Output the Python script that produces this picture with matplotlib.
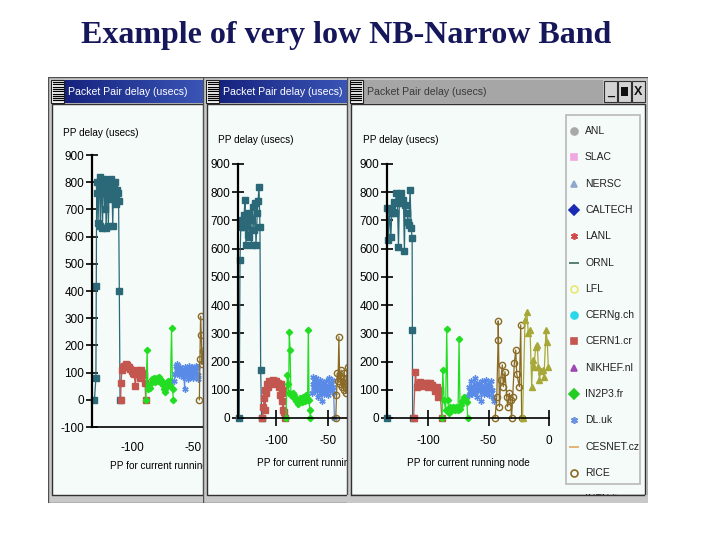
import matplotlib
matplotlib.use('Agg')
import matplotlib.pyplot as plt
from matplotlib.patches import Rectangle
from matplotlib.colors import LinearSegmentedColormap
import numpy as np

# ---------------- data ----------------
slide_title = "Example of very low NB-Narrow Band"
window_title = "Packet Pair delay (usecs)"
y_label = "PP delay (usecs)"
x_label = "PP for current running node"

yticks_p1 = [-100, 0, 100, 200, 300, 400, 500, 600, 700, 800, 900]
yticks_p23 = [0, 100, 200, 300, 400, 500, 600, 700, 800, 900]
xticks_p12 = [-100, -50]
xticks_p3 = [-100, -50, 0]

# panel 1
teal1_x = [-131.0, -129.8, -129.5, -129.2, -128.6, -128.0, -127.4, -126.8, -126.2, -125.6,
           -125.0, -124.4, -123.8, -123.2, -122.6, -122.0, -121.4, -120.8, -120.2, -119.6,
           -119.0, -118.4, -117.8, -117.2, -116.6, -116.0, -115.4, -114.8, -114.2, -113.6,
           -113.0, -112.4, -111.8, -111.2, -110.6, -110.0]
teal1_y = [0, 80, 420, 760, 800, 650, 790, 820, 640, 800,
           760, 630, 790, 810, 700, 780, 630, 760, 800, 640,
           770, 740, 790, 810, 780, 640, 760, 790, 800, 740,
           720, 770, 760, 730, 400, 0]
red1_x = [-109.5, -109.2, -108.5, -107.5, -106.5, -105.5, -104.5, -103.5, -102.5, -101.5,
          -100.5, -99.5, -98.5, -97.5, -96.5, -95.5, -94.5, -93.5, -92.5, -91.5,
          -90.5, -89.5, -89.0]
red1_y = [0, 60, 110, 120, 125, 130, 128, 122, 120, 115,
          105, 100, 95, 50, 110, 100, 95, 80, 110, 100,
          90, 60, 0]
green1_x = [-88.8, -87.8, -87.2, -86.3, -85.5, -84.7, -83.8, -83.0, -82.2, -81.4,
            -80.6, -79.8, -79.0, -78.2, -77.4, -76.6, -75.8, -75.0, -74.2, -73.4,
            -72.6, -71.8, -71.0, -70.2, -69.4, -68.6, -67.8, -67.0, -66.3]
green1_y = [0, 182, 40, 55, 45, 60, 75, 70, 80, 65,
            75, 80, 70, 85, 75, 60, 70, 55, 40, 30,
            45, 60, 70, 65, 55, 70, 264, 40, 0]
blue1_x = [-65.5, -64.9, -64.3, -63.7, -63.1, -62.5, -61.9, -61.3, -60.7, -60.1,
           -59.5, -58.9, -58.3, -57.7, -57.1, -56.5, -55.9, -55.3, -54.7, -54.1,
           -53.5, -52.9, -52.3, -51.7, -51.1, -50.5, -49.9, -49.3, -48.7, -48.1,
           -47.5, -46.9, -46.3, -45.7]
blue1_y = [70, 95, 125, 110, 130, 100, 115, 90, 120, 105,
           95, 110, 85, 100, 40, 120, 90, 110, 75, 100,
           125, 95, 110, 90, 120, 100, 80, 115, 95, 125,
           105, 120, 90, 75]
brown1_x = [-45.0, -44.5, -44.0, -43.4, -42.8, -42.2]
brown1_y = [0, 150, 307, 240, 130, 180]

# panel 2
teal2_x = [-135.3, -134.6, -133.8, -133.0, -132.2, -131.4, -130.6, -129.8, -128.8, -128.0,
           -127.3, -126.6, -125.6, -124.6, -123.4, -122.5, -121.2, -120.2, -119.2, -118.0,
           -117.2, -116.3, -115.4, -114.7, -113.8]
teal2_y = [0, 560, 680, 678, 700, 678, 720, 773, 613, 700,
           650, 726, 643, 700, 613, 749, 667, 762, 614, 726,
           770, 820, 678, 170, 0]
red2_x = [-113, -112, -111.5, -111, -110.5, -110, -109, -108, -107, -106,
          -105, -104, -103, -102, -101, -100, -99, -98, -97, -96,
          -95, -94.5, -94, -93.5, -93, -92.5, -91.5]
red2_y = [0, 40, 70, 100, 30, 90, 120, 110, 130, 125,
          120, 130, 135, 128, 130, 132, 120, 125, 110, 80,
          120, 90, 60, 30, 100, 20, 0]
green2_x = [-90.4, -89.1, -88.5, -87.8, -87.2, -86.4, -85.6, -84.8, -84.0, -83.2,
            -82.4, -81.6, -80.8, -80.0, -79.2, -78.4, -77.6, -76.8, -76.0, -75.2,
            -74.4, -73.6, -72.8, -72.0, -71.2, -70.4, -69.6, -68.9, -68.2, -67.5,
            -66.8]
green2_y = [0, 152, 120, 88, 304, 240, 80, 85, 75, 90,
            80, 70, 60, 65, 55, 50, 60, 70, 65, 55,
            60, 75, 70, 60, 80, 70, 65, 312, 64, 30,
            0]
blue2_x = [-65.5, -64.8, -64.1, -63.4, -62.7, -62.0, -61.3, -60.6, -59.9, -59.2,
           -58.5, -57.8, -57.1, -56.4, -55.7, -55.0, -54.3, -53.6, -52.9, -52.2,
           -51.5, -50.8, -50.1, -49.4, -48.7, -48.0, -47.3, -46.6, -45.9, -45.2,
           -44.5, -43.8]
blue2_y = [90, 120, 145, 110, 130, 95, 140, 105, 75, 120,
           100, 135, 90, 110, 60, 125, 100, 85, 115, 95,
           130, 105, 80, 110, 140, 95, 120, 100, 135, 110,
           90, 0]
brown2_x = [-42.5, -41.8, -41.0, -40.3, -39.5, -38.8, -38.0, -37.3, -36.5, -35.8,
            -35.0, -34.2, -33.5, -32.8, -32.0, -31.2]
brown2_y = [0, 80, 159, 130, 288, 150, 120, 170, 110, 140,
            100, 160, 120, 90, 140, 180]

# panel 3
teal3_x = [-134.0, -133.6, -132.8, -132.0, -130.8, -130.0, -128.7, -128.2, -127.3, -126.4,
           -125.4, -124.5, -123.7, -122.3, -121.2, -120.4, -119.6, -119.0, -117.6, -116.8,
           -116.0, -114.9, -114.0, -113.2, -113.0, -112.8]
teal3_y = [0, 743, 631, 740, 643, 727, 731, 767, 727, 796,
           762, 607, 784, 796, 762, 774, 590, 756, 727, 696,
           684, 808, 672, 637, 312, 0]
red3_x = [-112.0, -110.5, -109.4, -108.0, -106.6, -105.2, -103.9, -102.5, -101.1, -99.7,
          -98.3, -97.0, -95.6, -94.2, -92.9, -91.5, -90.1, -88.7]
red3_y = [0, 164, 111, 120, 129, 115, 118, 125, 124, 110,
          124, 118, 111, 94, 111, 76, 100, 0]
green3_x = [-88.4, -87.9, -86.8, -85.5, -84.6, -83.7, -82.9, -82.0, -81.0, -80.0,
            -79.0, -78.0, -77.0, -76.0, -75.2, -74.4, -73.6, -72.6, -71.6, -70.6,
            -69.6, -68.6, -67.8, -67.3]
green3_y = [0, 170, 64, 28, 314, 64, 18, 40, 35, 30,
            38, 28, 40, 35, 30, 279, 33, 45, 60, 75,
            65, 70, 55, 0]
blue3_x = [-66.5, -65.8, -65.1, -64.4, -63.7, -63.0, -62.3, -61.6, -60.9, -60.2,
           -59.5, -58.8, -58.1, -57.4, -56.7, -56.0, -55.3, -54.6, -53.9, -53.2,
           -52.5, -51.8, -51.1, -50.4, -49.7, -49.0, -48.3, -47.6, -46.9, -46.2,
           -45.5]
blue3_y = [80, 110, 95, 130, 85, 115, 100, 140, 90, 120,
           75, 105, 125, 95, 110, 60, 130, 100, 85, 115,
           135, 90, 105, 120, 80, 110, 95, 130, 100, 75,
           60]
brown3_x = [-44.6, -43.2, -42.1, -42.0, -41.0, -39.9, -38.6, -37.8, -36.4, -35.0,
            -34.2, -32.8, -31.7, -31.0, -30.0, -28.7, -27.5, -26.7, -24.5, -23.4,
            -22.6]
brown3_y = [0, 76, 276, 344, 40, 135, 188, 111, 164, 76,
            40, 88, 64, 0, 76, 194, 241, 156, 111, 330,
            0]
olive3_x = [-21.9, -19.8, -18.4, -17.1, -15.7, -14.3, -13.5, -12.4, -11.0, -9.7,
            -8.8, -7.9, -6.9, -5.2, -4.1, -2.5, -1.4, -0.6]
olive3_y = [0, 347, 377, 300, 312, 111, 206, 182, 253, 259,
            182, 135, 165, 171, 147, 312, 270, 182]

legend_labels = ["ANL", "SLAC", "NERSC", "CALTECH", "LANL", "ORNL", "LFL", "CERNg.ch",
                 "CERN1.cr", "NIKHEF.nl", "IN2P3.fr", "DL.uk", "CESNET.cz", "RICE", "INFN.it"]
legend_colors = ["#a8a8a8", "#f0a8e0", "#8ea8cc", "#1a2ab4", "#d04848", "#3c6a5c",
                 "#e8e870", "#28d8e8", "#c45650", "#a048b4", "#22cc22", "#6a90e0",
                 "#e0a860", "#8a6a24", "#a8a838"]
legend_markers = ["o", "s", "^", "D", (6, 2, 0), "_", "o", "o", "s", "^", "D", (6, 2, 0),
                  "_", "o", "^"]
legend_open = [False, False, False, False, False, False, True, False, False, False, False,
               False, False, True, False]

# ---------------- style ----------------
SANS = ['Liberation Sans', 'DejaVu Sans']
BODY = '#f5fbf8'
C_TEAL = '#2b6878'
C_RED = '#c45650'
C_GREEN = '#22dd22'
C_BLUE = '#5a8ae8'
C_BROWN = '#8a6a24'
C_OLIVE = '#a8a838'
FS_TICK = 8.5
FS_LAB = 7.2

W, H = 720, 540
fig = plt.figure(figsize=(7.2, 5.4), dpi=100)
fig.patch.set_facecolor('white')


def fr(x0, y0, x1, y1):
    return [x0 / W, 1 - y1 / H, (x1 - x0) / W, (y1 - y0) / H]


fig.text(346 / W, 1 - 36 / H, slide_title, ha='center', va='center',
         family=['Liberation Serif', 'DejaVu Serif'], fontweight='bold',
         fontsize=23, color='#16165a')

blue_cmap = LinearSegmentedColormap.from_list('tb', ['#16237e', '#3a55b6'])
grad = np.linspace(0, 1, 256).reshape(1, -1)

BODY_TOP, BODY_BOT = 104, 495


def window(x0, x1, active, z, buttons=False):
    y0, y1 = 77, 503
    ax = fig.add_axes(fr(x0, y0, x1, y1), zorder=z)
    ax.axis('off')
    ax.add_patch(Rectangle((x0, y0), x1 - x0, y1 - y0, facecolor='#c8c8c8',
                           edgecolor='#505050', lw=1.0, zorder=0))
    ax.add_patch(Rectangle((x0 + 4, BODY_TOP), x1 - x0 - 7, BODY_BOT - BODY_TOP,
                           facecolor=BODY, edgecolor='#303030', lw=1.0, zorder=1))
    tb0 = x0 + 17
    tb1 = x1 - 3 if not buttons else x1 - 45
    if active:
        ax.imshow(grad, cmap=blue_cmap, aspect='auto', extent=(tb0, x1 - 3, 103, 80),
                  zorder=2)
        tcol = 'white'
    else:
        ax.add_patch(Rectangle((tb0, 80), tb1 - tb0, 23, facecolor='#a6a6a6',
                               edgecolor='none', zorder=2))
        tcol = '#3a3a3a'
    # menu icon
    ax.add_patch(Rectangle((x0 + 3, 80), 13, 23, facecolor='white', edgecolor='#202020',
                           lw=0.8, zorder=3))
    for k in range(9):
        yy = 82 + 2.3 * k
        ax.plot([x0 + 4.5, x0 + 14.5], [yy, yy], color='black', lw=0.9, zorder=4)
    ax.text(tb0 + 3, 92, window_title, color=tcol, fontsize=7.6, family=SANS,
            ha='left', va='center', zorder=5, clip_on=True)
    if buttons:
        for i, g in enumerate(['_', 'sq', 'X']):
            bx = x1 - 44 + 14 * i
            ax.add_patch(Rectangle((bx, 81), 12.5, 21, facecolor='#d4d4d4',
                                   edgecolor='#303030', lw=0.8, zorder=3))
            if g == 'sq':
                ax.add_patch(Rectangle((bx + 3, 87), 6.5, 9, facecolor='#101010',
                                       edgecolor='none', zorder=4))
            else:
                ax.text(bx + 6.25, 92, g, ha='center', va='center', fontsize=9,
                        family=SANS, color='#101010', fontweight='bold', zorder=4)
    ax.set_xlim(x0, x1)
    ax.set_ylim(y1, y0)
    return ax


def plot_axes(px0, px1, ptop, pbot, xlim, ylim, z, yticks, xticks, xtick_len):
    ax = fig.add_axes(fr(px0, ptop, px1, pbot), zorder=z)
    ax.set_facecolor('none')
    for s in ['top', 'right']:
        ax.spines[s].set_visible(False)
    ax.spines['left'].set_linewidth(1.6)
    ax.spines['bottom'].set_linewidth(1.2)
    ax.set_xlim(*xlim)
    ax.set_ylim(*ylim)
    ax.set_yticks(yticks)
    ax.set_yticklabels([str(v) for v in yticks], family=SANS, fontsize=FS_TICK)
    ax.set_xticks(xticks)
    ax.set_xticklabels([str(v) for v in xticks], family=SANS, fontsize=FS_TICK)
    ax.tick_params(axis='y', direction='inout', length=9, width=1.2, pad=1)
    if xtick_len > 0:
        ax.tick_params(axis='x', direction='inout', length=xtick_len, width=1.2, pad=7)
    else:
        ax.tick_params(axis='x', length=0, pad=11)
    return ax


def series(ax, x, y, color, marker, ms, open_=False, lw=0.9):
    ax.plot(x, y, color=color, lw=lw, marker=marker, markersize=ms,
            markerfacecolor='none' if open_ else color, markeredgecolor=color,
            markeredgewidth=1.0, clip_on=False)


# ---- window 1 ----
w1 = window(48, 206, True, 1)
w1.text(63, 133, y_label, fontsize=FS_LAB, family=SANS, ha='left', va='center', zorder=5)
w1.text(110, 466, x_label, fontsize=FS_LAB, family=SANS, ha='left', va='center', zorder=5,
        clip_on=True)
a1 = plot_axes(92, 203, 155, 427, (-133, -42), (-100, 900), 2, yticks_p1, xticks_p12, 0)
series(a1, teal1_x, teal1_y, C_TEAL, 's', 4.2)
series(a1, red1_x, red1_y, C_RED, 's', 5)
series(a1, green1_x, green1_y, C_GREEN, 'D', 3.2)
series(a1, blue1_x, blue1_y, C_BLUE, (6, 2, 0), 4.5)
series(a1, brown1_x, brown1_y, C_BROWN, 'o', 4.5, open_=True)

# ---- window 2 ----
w2 = window(203, 350, True, 3)
w2.text(218, 140, y_label, fontsize=FS_LAB, family=SANS, ha='left', va='center', zorder=5)
w2.text(257, 463, x_label, fontsize=FS_LAB, family=SANS, ha='left', va='center', zorder=5,
        clip_on=True)
a2 = plot_axes(238, 347, 164, 418, (-136.5, -31.7), (0, 900), 4, yticks_p23, xticks_p12, 11)
series(a2, teal2_x, teal2_y, C_TEAL, 's', 4.2)
series(a2, red2_x, red2_y, C_RED, 's', 5)
series(a2, green2_x, green2_y, C_GREEN, 'D', 3.2)
series(a2, blue2_x, blue2_y, C_BLUE, (6, 2, 0), 4.5)
series(a2, brown2_x, brown2_y, C_BROWN, 'o', 4.5, open_=True)

# ---- window 3 ----
w3 = window(347, 648, False, 5, buttons=True)
w3.text(363, 140, y_label, fontsize=FS_LAB, family=SANS, ha='left', va='center', zorder=5)
w3.text(407, 463, x_label, fontsize=FS_LAB, family=SANS, ha='left', va='center', zorder=5,
        clip_on=True)
# legend panel
w3.add_patch(Rectangle((566, 115), 74, 369, facecolor='none', edgecolor='#b8b8b8',
                       lw=1.2, zorder=3))
for k, (lab, col, mk, op) in enumerate(zip(legend_labels, legend_colors, legend_markers,
                                           legend_open)):
    yy = 131 + 26.3 * k
    w3.plot([574], [yy], marker=mk, markersize=5 if mk != '_' else 7,
            color=col, markerfacecolor='none' if op else col, markeredgecolor=col,
            markeredgewidth=1.2, zorder=4)
    w3.text(585, yy, lab, fontsize=7.5, family=SANS, ha='left', va='center',
            color='#202020', zorder=4)
# bottom frame strip drawn over the clipped last legend entry
w3.add_patch(Rectangle((347, BODY_BOT), 301, 503 - BODY_BOT, facecolor='#c8c8c8',
                       edgecolor='none', zorder=6))
w3.plot([351, 644], [BODY_BOT, BODY_BOT], color='#303030', lw=1.0, zorder=7)
w3.set_xlim(347, 648)
w3.set_ylim(503, 77)

a3 = plot_axes(387, 549, 164, 418, (-134, 0), (0, 900), 6, yticks_p23, xticks_p3, 11)
series(a3, teal3_x, teal3_y, C_TEAL, 's', 4.2)
series(a3, red3_x, red3_y, C_RED, 's', 5)
series(a3, green3_x, green3_y, C_GREEN, 'D', 3.2)
series(a3, blue3_x, blue3_y, C_BLUE, (6, 2, 0), 4.5)
series(a3, brown3_x, brown3_y, C_BROWN, 'o', 4.5, open_=True)
series(a3, olive3_x, olive3_y, C_OLIVE, '^', 4.2)

fig.savefig('out.png', dpi=100, facecolor='white')
